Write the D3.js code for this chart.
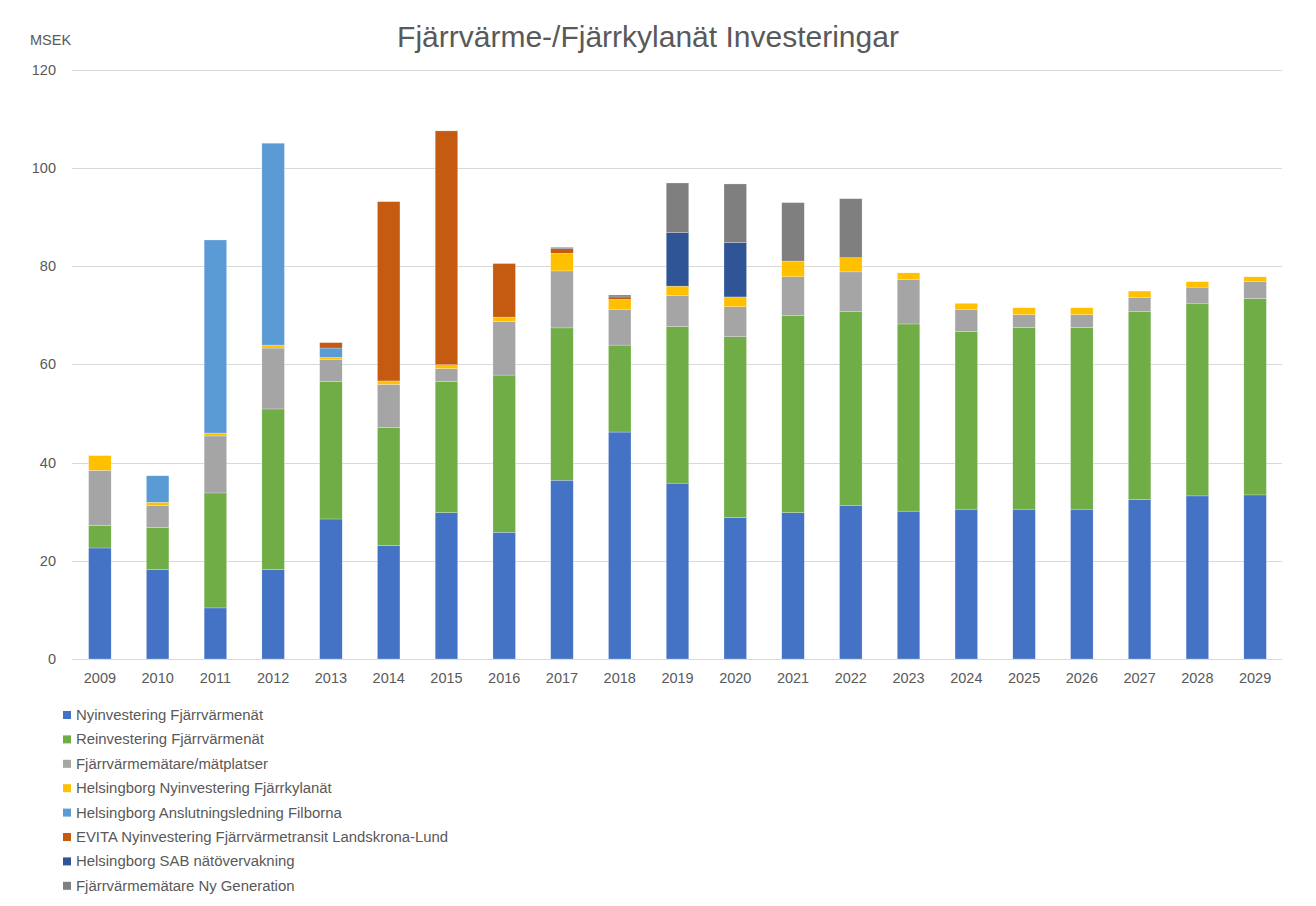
<!DOCTYPE html>
<html>
<head>
<meta charset="utf-8">
<script src="https://cdn.jsdelivr.net/npm/d3@7"></script>
<style>
	body { margin: 0; background: #fff; }
	svg { display: block; font-family: "Liberation Sans", Arial, sans-serif; }
	.grid line { stroke: #d9d9d9; stroke-width: 1; }
	.axis text { fill: #595959; font-size: 14px; }
</style>
</head>
<body>
<div id="chart"></div>
<script>
var years = ["2009","2010","2011","2012","2013","2014","2015","2016","2017","2018","2019",
	"2020","2021","2022","2023","2024","2025","2026","2027","2028","2029"];

var seriesNames = [
	"Nyinvestering Fjärrvärmenät",
	"Reinvestering Fjärrvärmenät",
	"Fjärrvärmemätare/mätplatser",
	"Helsingborg Nyinvestering Fjärrkylanät",
	"Helsingborg Anslutningsledning Filborna",
	"EVITA Nyinvestering Fjärrvärmetransit Landskrona-Lund",
	"Helsingborg SAB nätövervakning",
	"Fjärrvärmemätare Ny Generation"
];

var nyinvestering = [22.6, 18.2, 10.4, 18.2, 28.5, 23.1, 29.8, 25.8, 36.4, 46.2, 35.8,
	28.8, 29.8, 31.2, 30.1, 30.5, 30.5, 30.5, 32.5, 33.2, 33.4];
var reinvestering = [4.6, 8.6, 23.4, 32.7, 28.0, 24.0, 26.7, 32.0, 31.0, 17.7, 31.9,
	36.8, 40.1, 39.5, 38.1, 36.2, 37.0, 37.0, 38.2, 39.1, 40.0];
var matare = [11.2, 4.4, 11.6, 12.4, 4.5, 8.8, 2.6, 10.9, 11.6, 7.3, 6.3,
	6.1, 7.9, 8.1, 9.0, 4.4, 2.6, 2.6, 2.9, 3.4, 3.4];
var fjarrkyla = [3.0, 0.7, 0.6, 0.6, 0.4, 0.7, 0.8, 0.9, 3.6, 2.0, 1.9,
	2.0, 3.2, 2.9, 1.4, 1.3, 1.4, 1.4, 1.3, 1.1, 1.0];
var filborna = [0, 5.4, 39.3, 41.1, 1.9, 0, 0, 0, 0, 0, 0,
	0, 0, 0, 0, 0, 0, 0, 0, 0, 0];
var evita = [0, 0, 0, 0, 1.1, 36.5, 47.6, 10.9, 0.9, 0.5, 0,
	0, 0, 0, 0, 0, 0, 0, 0, 0, 0];
var sab = [0, 0, 0, 0, 0, 0, 0, 0, 0, 0, 10.9,
	11.1, 0, 0, 0, 0, 0, 0, 0, 0, 0];
var nyGeneration = [0, 0, 0, 0, 0, 0, 0, 0, 0.3, 0.4, 10.1,
	11.9, 11.9, 12.0, 0, 0, 0, 0, 0, 0, 0];

var yTicks = [0, 20, 40, 60, 80, 100, 120];

var colors = ["#4472c4", "#70ad47", "#a5a5a5", "#ffc000", "#5b9bd5", "#c55a11", "#2f5597", "#7f7f7f"];

var seriesValues = [nyinvestering, reinvestering, matare, fjarrkyla, filborna, evita, sab, nyGeneration];

// one row per year for d3.stack
var table = years.map(function(y, i) {
	var row = { year: y };
	seriesNames.forEach(function(name, k) {
		row[name] = seriesValues[k][i];
	});
	return row;
});

var width = 1316,
	height = 906;

var svg = d3.select("#chart").append("svg")
	.attr("width", width)
	.attr("height", height);

var plot = { left: 71, right: 1284, top: 69.5, bottom: 659 };

var xScale = d3.scaleBand()
	.domain(years)
	.range([plot.left, plot.right])
	.paddingInner(0.61)
	.paddingOuter(0.305);

var yScale = d3.scaleLinear().domain([0, 120]).range([plot.bottom, plot.top]);

// gridlines
svg.append("g")
	.attr("class", "grid")
	.selectAll("line")
	.data(yTicks)
	.enter()
	.append("line")
	.attr("x1", plot.left + 1)
	.attr("x2", plot.right - 2)
	.attr("y1", function(d) { return Math.round(yScale(d)) + 0.5; })
	.attr("y2", function(d) { return Math.round(yScale(d)) + 0.5; });

var stack = d3.stack().keys(seriesNames);
var layers = stack(table);

svg.append("g")
	.selectAll(".layer")
	.data(layers)
	.enter()
	.append("g")
	.attr("class", "layer")
	.style("fill", function(d, i) { return colors[i]; })
	.selectAll("rect")
	.data(function(d) { return d.filter(function(p) { return p[1] - p[0] > 0; }); })
	.enter()
	.append("rect")
	.attr("x", function(d) { return xScale(d.data.year); })
	.attr("width", xScale.bandwidth())
	.attr("y", function(d) { return yScale(d[1]); })
	.attr("height", function(d) { return yScale(d[0]) - yScale(d[1]); })
	.style("stroke", "#ffffff")
	.style("stroke-width", 0.4)
	.style("stroke-opacity", 0.6);

// y axis (labels only)
var yAxis = d3.axisLeft(yScale).tickValues(yTicks).tickSize(0).tickPadding(0);
svg.append("g")
	.attr("class", "axis")
	.attr("transform", "translate(56,0)")
	.call(yAxis)
	.call(function(g) { g.select(".domain").remove(); })
	.selectAll("text")
	.style("font-size", "14.5px");

// x axis (labels only)
var xAxis = d3.axisBottom(xScale).tickSize(0).tickPadding(14);
svg.append("g")
	.attr("class", "axis")
	.attr("transform", "translate(0," + plot.bottom + ")")
	.call(xAxis)
	.call(function(g) { g.select(".domain").remove(); })
	.selectAll("text")
	.style("font-size", "14.5px");

// title and unit
svg.append("text")
	.attr("x", 648)
	.attr("y", 47)
	.attr("text-anchor", "middle")
	.style("font-size", "30px")
	.style("fill", "#595959")
	.text("Fjärrvärme-/Fjärrkylanät Investeringar");

svg.append("text")
	.attr("x", 30)
	.attr("y", 45)
	.style("font-size", "14.5px")
	.style("fill", "#595959")
	.text("MSEK");

// legend
var legend = svg.append("g")
	.selectAll(".legend")
	.data(seriesNames)
	.enter()
	.append("g")
	.attr("class", "legend")
	.attr("transform", function(d, i) { return "translate(63," + (715 + i * 24.4) + ")"; });

legend.append("rect")
	.attr("x", 0)
	.attr("y", -4)
	.attr("width", 8)
	.attr("height", 8)
	.style("fill", function(d, i) { return colors[i]; });

legend.append("text")
	.attr("x", 13)
	.attr("y", 5)
	.style("font-size", "14.9px")
	.style("fill", "#595959")
	.text(function(d) { return d; });
</script>
</body>
</html>
